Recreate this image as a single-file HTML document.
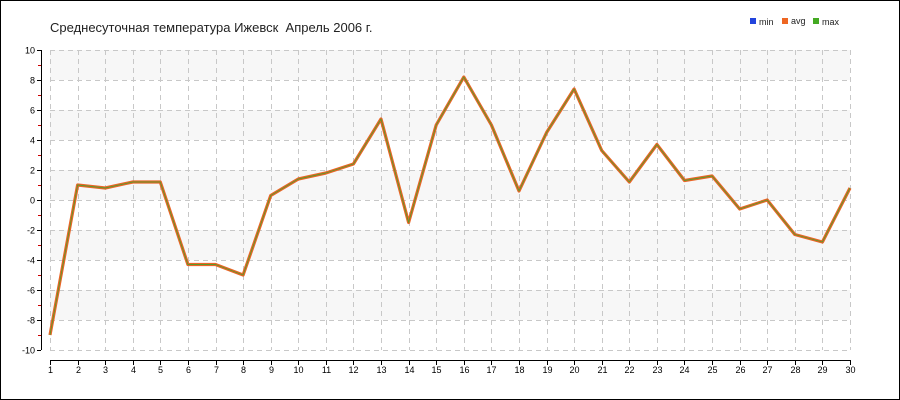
<!DOCTYPE html>
<html><head><meta charset="utf-8"><style>
html,body{margin:0;padding:0;background:#fff}
svg{display:block}
text{font-family:"Liberation Sans",sans-serif}
</style></head><body>
<svg width="900" height="400" xmlns="http://www.w3.org/2000/svg">
<rect x="0.5" y="0.5" width="899" height="399" fill="#fff" stroke="#000"/>
<text x="50" y="32" font-size="13" fill="#222">Среднесуточная температура Ижевск&#160; Апрель 2006 г.</text>
<g font-size="9" fill="#222">
<rect x="750" y="18" width="6" height="6" fill="#2244dd"/><text x="759" y="25">min</text>
<rect x="782" y="18" width="6" height="6" fill="#ee6622"/><text x="791" y="24">avg</text>
<rect x="813" y="18" width="6" height="6" fill="#44aa22"/><text x="822" y="25">max</text>
</g>
<g fill="#f7f7f7">
<rect x="50" y="50" width="800" height="30"/>
<rect x="50" y="110" width="800" height="30"/>
<rect x="50" y="170" width="800" height="30"/>
<rect x="50" y="230" width="800" height="30"/>
<rect x="50" y="290" width="800" height="30"/>
</g>
<g id="grid" stroke="#c8c8c8" stroke-dasharray="5,4" stroke-width="1"></g>
<g id="axes"></g>
<polyline id="l1" fill="none" stroke="#ea6426" stroke-width="3.2" stroke-linejoin="round"/>
<polyline id="l2" fill="none" stroke="#5a9a2a" stroke-width="0.9" stroke-linejoin="round"/>
<script>
var d=[-9,1,0.8,1.2,1.2,-4.3,-4.3,-5,0.3,1.4,1.8,2.4,5.4,-1.5,5,8.2,5,0.6,4.5,7.4,3.3,1.2,3.7,1.3,1.6,-0.6,0,-2.3,-2.8,0.8];
var ns="http://www.w3.org/2000/svg";
function X(i){return 50+i*800/29}
function Y(v){return 200-v*15}
var pts=d.map(function(v,i){return X(i).toFixed(1)+","+Y(v).toFixed(1)}).join(" ");
document.getElementById("l1").setAttribute("points",pts);
document.getElementById("l2").setAttribute("points",pts);
var g=document.getElementById("grid"),a=document.getElementById("axes");
function el(p,t,at,txt){var e=document.createElementNS(ns,t);for(var k in at)e.setAttribute(k,at[k]);if(txt!=null)e.textContent=txt;p.appendChild(e);return e}
for(var i=0;i<30;i++){var x=Math.round(X(i))+0.5;el(g,"line",{x1:x,x2:x,y1:50,y2:350});
el(a,"line",{x1:x,x2:x,y1:360,y2:365,stroke:"#000"});
el(a,"text",{x:x,y:373,"font-size":"9","text-anchor":"middle",fill:"#000"},i+1);}
for(var v=-10;v<=10;v+=2){var y=Y(v)+0.5;el(g,"line",{x1:50,x2:850,y1:y,y2:y});
el(a,"line",{x1:37,x2:41,y1:y,y2:y,stroke:"#000"});
el(a,"text",{x:35,y:y+3,"font-size":"9","text-anchor":"end",fill:"#000"},v);}
for(var v=-9;v<=9;v+=2){var y=Y(v)+0.5;el(a,"line",{x1:38,x2:41,y1:y,y2:y,stroke:"#cc0000"});}
el(a,"line",{x1:41.5,x2:41.5,y1:50,y2:350,stroke:"#000"});
el(a,"line",{x1:50,x2:850,y1:360.5,y2:360.5,stroke:"#000"});
</script>
</svg>
</body></html>
